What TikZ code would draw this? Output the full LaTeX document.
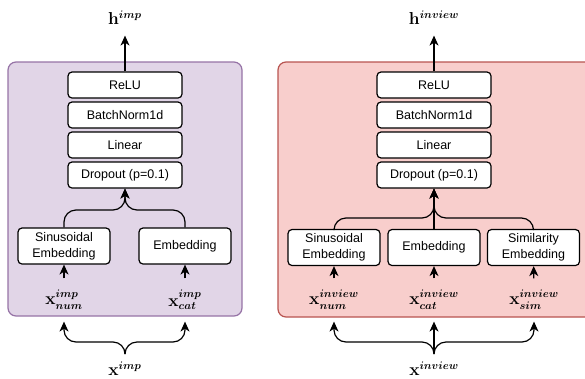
\documentclass[tikz,border=0pt]{standalone}
\usepackage{amssymb, amsmath}
\usepackage{fontspec}
\setmainfont{Liberation Sans}
\usepackage{tikz}
\usetikzlibrary{arrows.meta}
\definecolor{impfill}{RGB}{225, 213, 231}
\definecolor{impline}{RGB}{150, 115, 166}
\definecolor{invfill}{RGB}{248, 206, 204}
\definecolor{invline}{RGB}{184, 84, 80}

\begin{document}
\begin{tikzpicture}[x=1pt, y=-1pt, line width=1.2pt,
  >={Stealth[length=10pt, width=9pt, inset=3pt]},
  layer/.style={draw, fill=white, rounded corners=4pt, minimum width=114pt,
    minimum height=26pt, inner sep=0pt, font=\fontsize{12.5}{16}\selectfont},
  embed/.style={layer, minimum width=92pt, minimum height=36pt, align=center},
  vec/.style={font=\fontsize{16}{18}\selectfont\boldmath, inner sep=0pt,
    minimum height=34pt},
  feat/.style={vec, minimum height=42pt},
  merge/.style={->, rounded corners=12pt}]

  \useasboundingbox (0, 0) rectangle (585, 378);

  % imp
  \draw[impline, fill=impfill, rounded corners=8pt] (8, 62) rectangle (242, 316);

  \node[layer] (relu1) at (125, 85) {ReLU};
  \node[layer] (bn1) at (125, 115) {BatchNorm1d};
  \node[layer] (lin1) at (125, 145) {Linear};
  \node[layer] (drop1) at (125, 175) {Dropout (p=0.1)};
  \node[vec] (h1) at (125, 18) {$\mathbf{h}^{imp}$};
  \draw[->] (relu1) -- (h1);

  \node[embed] (sin1) at (64, 246) {Sinusoidal\\Embedding};
  \node[embed] (emb1) at (185, 246) {Embedding};
  \coordinate (join1) at (125, 210);
  \draw[merge] (sin1.north) |- (join1) -- (drop1.south);
  \draw[merge] (emb1.north) |- (join1) -- (drop1.south);

  \node[feat] (num1) at (64, 300) {$\mathbf{x}^{imp}_{num}$};
  \node[feat] (cat1) at (185, 300) {$\mathbf{x}^{imp}_{cat}$};
  \draw[->] (num1) -- (sin1);
  \draw[->] (cat1) -- (emb1);

  \node[vec] (x1) at (125, 369) {$\mathbf{x}^{imp}$};
  \coordinate (split1) at (125, 342);
  \draw[merge] (x1.north) -- (split1) -| (num1.south);
  \draw[merge] (x1.north) -- (split1) -| (cat1.south);

  % inview
  \draw[invline, fill=invfill, rounded corners=8pt] (278, 62) rectangle (600, 317);

  \node[layer] (relu2) at (434, 85) {ReLU};
  \node[layer] (bn2) at (434, 115) {BatchNorm1d};
  \node[layer] (lin2) at (434, 145) {Linear};
  \node[layer] (drop2) at (434, 175) {Dropout (p=0.1)};
  \node[vec] (h2) at (434, 18) {$\mathbf{h}^{inview}$};
  \draw[->] (relu2) -- (h2);

  \node[embed] (sin2) at (334, 247.5) {Sinusoidal\\Embedding};
  \node[embed] (emb2) at (434, 247.5) {Embedding};
  \node[embed] (sim2) at (533.5, 247.5) {Similarity\\Embedding};
  \coordinate (join2) at (434, 218);
  \draw[merge] (sin2.north) |- (join2) -- (drop2.south);
  \draw[merge] (sim2.north) |- (join2) -- (drop2.south);
  \draw[->] (emb2) -- (drop2);

  \node[feat] (num2) at (334, 300) {$\mathbf{x}^{inview}_{num}$};
  \node[feat] (cat2) at (434, 300) {$\mathbf{x}^{inview}_{cat}$};
  \node[feat] (simx2) at (534, 300) {$\mathbf{x}^{inview}_{sim}$};
  \draw[->] (num2) -- (sin2);
  \draw[->] (cat2) -- (emb2);
  \draw[->] (simx2) -- (sim2);

  \node[vec] (x2) at (434, 369) {$\mathbf{x}^{inview}$};
  \coordinate (split2) at (434, 342);
  \draw[merge] (x2.north) -- (split2) -| (num2.south);
  \draw[merge] (x2.north) -- (split2) -| (simx2.south);
  \draw[->] (x2) -- (cat2);

\end{tikzpicture}
\end{document}
